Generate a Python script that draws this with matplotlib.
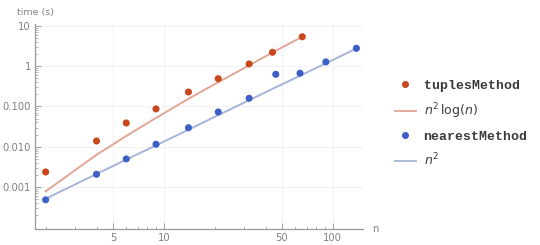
import numpy as np
import matplotlib.pyplot as plt
from matplotlib.lines import Line2D

n_tuples = [2, 4, 6, 9, 14, 21, 32, 44, 66]
t_tuples = [0.00236, 0.0139, 0.039, 0.087, 0.229, 0.49, 1.14, 2.22, 5.4]

n_nearest = [2, 4, 6, 9, 14, 21, 32, 46, 64, 91, 138]
t_nearest = [0.00048, 0.00207, 0.00497, 0.0115, 0.0297, 0.073, 0.16, 0.63, 0.67, 1.28, 2.79]

# fitted curves, read at the same n
fit_tuples = [0.00078, 0.0063, 0.0185, 0.052, 0.155, 0.40, 1.05, 2.2, 5.4]
fit_nearest = [0.00051, 0.0021, 0.0048, 0.0108, 0.0265, 0.061, 0.143, 0.30, 0.58, 1.18, 2.75]

red = '#c8471c'
blue = '#3d5fc6'
red_line = '#e2a596'
blue_line = '#a6b4d8'
gray = '#808080'

fig = plt.figure(figsize=(5.4, 2.45), dpi=100)
ax = fig.add_axes([35/540, 1-228.5/245, (363-35)/540, (228.5-24)/245])

ax.plot(n_tuples, fit_tuples, color=red_line, lw=1.4, zorder=2)
ax.plot(n_nearest, fit_nearest, color=blue_line, lw=1.4, zorder=2)
ax.scatter(n_tuples, t_tuples, s=26, color=red, zorder=3, edgecolors='none')
ax.scatter(n_nearest, t_nearest, s=26, color=blue, zorder=3, edgecolors='none')

ax.set_xscale('log')
ax.set_yscale('log')
ax.set_xlim(1.73, 151)
ax.set_ylim(9.3e-5, 11.2)

ax.set_xticks([5, 10, 50, 100])
ax.set_xticklabels(['5', '10', '50', '100'])
ax.set_yticks([1e-3, 1e-2, 1e-1, 1, 10])
ax.set_yticklabels(['0.001', '0.010', '0.100', '1', '10'])

for s in ['top', 'right']:
    ax.spines[s].set_visible(False)
for s in ['left', 'bottom']:
    ax.spines[s].set_color('#9a9a9a')
    ax.spines[s].set_linewidth(0.9)

ax.tick_params(which='major', direction='in', length=4, width=0.7, color='#9a9a9a',
               labelcolor=gray, labelsize=7.2, pad=3)
ax.tick_params(which='minor', direction='in', length=2, width=0.5, color='#9a9a9a')
ax.grid(True, which='major', color='#f2f2f2', lw=0.8, zorder=0)
ax.set_axisbelow(True)

fig.text(17/540, 1-12/245, 'time (s)', color=gray, fontsize=6.8, va='center', ha='left')
fig.text(372/540, 1-229/245, 'n', color=gray, fontsize=7.2, va='center', ha='left')

handles = [
    Line2D([], [], ls='none', marker='o', ms=4, color=red),
    Line2D([], [], color=red_line, lw=1.3),
    Line2D([], [], ls='none', marker='o', ms=4, color=blue),
    Line2D([], [], color=blue_line, lw=1.3),
]
labels = ['tuplesMethod', r'$n^2\,\log(n)$', 'nearestMethod', r'$n^2$']
leg = fig.legend(handles, labels, loc='upper left', bbox_to_anchor=(388/540, 1-73/245),
                 frameon=False, handlelength=1.6, handletextpad=0.6,
                 labelspacing=0.72, fontsize=9.5, borderpad=0)
for i, t in enumerate(leg.get_texts()):
    if i in (0, 2):
        t.set_fontfamily('Liberation Mono')
        t.set_fontweight('bold')
        t.set_color('#3a3a3a')
    else:
        t.set_fontsize(9)
        t.set_color('#3a3a3a')

fig.savefig('out.png', dpi=100)
